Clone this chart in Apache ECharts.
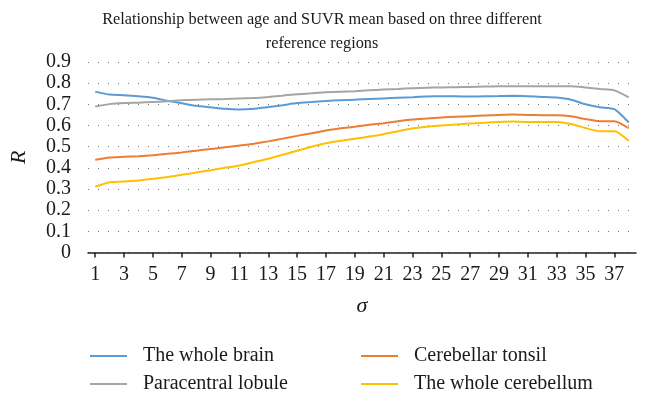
<!DOCTYPE html>
<html>
<head>
<meta charset="utf-8">
<script src="https://cdn.jsdelivr.net/npm/echarts@6/dist/echarts.min.js"></script>
<style>
  html,body{margin:0;padding:0;background:#fff;}
  #chart{width:648px;height:401px;}
</style>
</head>
<body>
<div id="chart"></div>
<script>
  var ages = [1, 2, 3, 4, 5, 6, 7, 8, 9, 10, 11, 12, 13, 14, 15, 16, 17, 18, 19,
    20, 21, 22, 23, 24, 25, 26, 27, 28, 29, 30, 31, 32, 33, 34, 35, 36, 37, 38];
  var tickValues = [1, 3, 5, 7, 9, 11, 13, 15, 17, 19, 21, 23, 25, 27, 29, 31, 33, 35, 37];

  var wholeBrain = [0.760, 0.746, 0.743, 0.738, 0.731, 0.717, 0.705, 0.693, 0.686, 0.679,
    0.676, 0.679, 0.687, 0.696, 0.706, 0.711, 0.716, 0.719, 0.722, 0.725,
    0.728, 0.731, 0.734, 0.737, 0.738, 0.738, 0.737, 0.738, 0.739, 0.740,
    0.738, 0.735, 0.732, 0.722, 0.700, 0.686, 0.677, 0.614];
  var paracentral = [0.690, 0.701, 0.706, 0.708, 0.711, 0.714, 0.719, 0.722, 0.724, 0.725,
    0.728, 0.730, 0.735, 0.741, 0.748, 0.752, 0.757, 0.760, 0.762, 0.766,
    0.770, 0.773, 0.776, 0.778, 0.780, 0.781, 0.782, 0.784, 0.786, 0.786,
    0.786, 0.786, 0.786, 0.786, 0.780, 0.772, 0.766, 0.733];
  var cerebellarTonsil = [0.438, 0.449, 0.452, 0.455, 0.460, 0.466, 0.473, 0.481, 0.489, 0.497,
    0.505, 0.514, 0.525, 0.538, 0.551, 0.563, 0.576, 0.587, 0.594, 0.603,
    0.611, 0.620, 0.628, 0.633, 0.638, 0.641, 0.644, 0.647, 0.650, 0.652,
    0.650, 0.649, 0.649, 0.644, 0.630, 0.620, 0.620, 0.587];
  var wholeCerebellum = [0.311, 0.332, 0.335, 0.340, 0.348, 0.357, 0.367, 0.378, 0.389, 0.400,
    0.411, 0.427, 0.443, 0.462, 0.481, 0.500, 0.516, 0.528, 0.537, 0.548,
    0.559, 0.573, 0.586, 0.594, 0.600, 0.605, 0.609, 0.613, 0.617, 0.619,
    0.617, 0.617, 0.617, 0.607, 0.588, 0.573, 0.573, 0.528];

  var seriesNames = ['The whole brain', 'Paracentral lobule', 'Cerebellar tonsil', 'The whole cerebellum'];
  var seriesColors = ['#5b9bd5', '#a5a5a5', '#ed7d31', '#ffc000'];
  var seriesValues = [wholeBrain, paracentral, cerebellarTonsil, wholeCerebellum];

  var serif = 'Liberation Serif';

  function pairs(vals) {
    return ages.map(function (a, i) { return [a, vals[i]]; });
  }

  var myChart = echarts.init(document.getElementById('chart'));
  var legendText = {
    fontFamily: serif,
    fontSize: 20,
    lineHeight: 20,
    color: '#1a1a1a',
    padding: [0, 0, 0, 11]
  };
  // two columns of legend, like the excel one
  function legendCol(left, names) {
    return {
      orient: 'vertical',
      left: left,
      top: 341,
      height: 60,
      icon: 'rect',
      itemWidth: 37,
      itemHeight: 2,
      itemGap: 8,
      data: names,
      textStyle: legendText
    };
  }
  myChart.setOption({
    animation: false,
    title: {
      text: 'Relationship between age and SUVR mean based on three different\nreference regions',
      left: 317,
      textAlign: 'center',
      top: 3,
      textStyle: {
        fontFamily: serif,
        fontSize: 16.3,
        fontWeight: 'normal',
        color: '#1a1a1a',
        lineHeight: 24
      }
    },
    legend: [
      legendCol(85, ['The whole brain', 'Paracentral lobule']),
      legendCol(356, ['Cerebellar tonsil', 'The whole cerebellum'])
    ],
    grid: {
      left: 85.5,
      right: 12,
      top: 62,
      height: 190.5
    },
    xAxis: {
      type: 'value',
      min: 0.5,
      max: 38.5,
      name: 'σ',
      nameLocation: 'middle',
      nameGap: 43,
      nameTextStyle: {
        fontFamily: serif,
        fontStyle: 'italic',
        fontSize: 22,
        color: '#1a1a1a'
      },
      axisLine: { lineStyle: { color: '#222', width: 1.5 } },
      axisTick: {
        customValues: tickValues,
        length: 5,
        lineStyle: { color: '#222', width: 1.5 }
      },
      axisLabel: {
        customValues: tickValues,
        margin: 12,
        fontFamily: serif,
        fontSize: 20,
        color: '#1a1a1a'
      },
      splitLine: { show: false }
    },
    yAxis: {
      type: 'value',
      min: 0,
      max: 0.9,
      interval: 0.1,
      name: 'R',
      nameLocation: 'middle',
      nameGap: 58,
      nameRotate: 90,
      nameTextStyle: {
        fontFamily: serif,
        fontStyle: 'italic',
        fontSize: 22,
        color: '#1a1a1a'
      },
      axisLine: { show: false },
      axisTick: { show: false },
      axisLabel: {
        margin: 17,
        fontFamily: serif,
        fontSize: 20,
        color: '#1a1a1a',
        formatter: function (v) { return v === 0 ? '0' : v.toFixed(1); }
      },
      splitLine: {
        lineStyle: { color: '#777', width: 1, type: [1, 9] }
      }
    },
    series: seriesNames.map(function (n, i) {
      return {
        name: n,
        type: 'line',
        data: pairs(seriesValues[i]),
        symbol: 'none',
        smooth: 0.2,
        color: seriesColors[i],
        lineStyle: { width: 2, color: seriesColors[i] }
      };
    })
  });
</script>
</body>
</html>
